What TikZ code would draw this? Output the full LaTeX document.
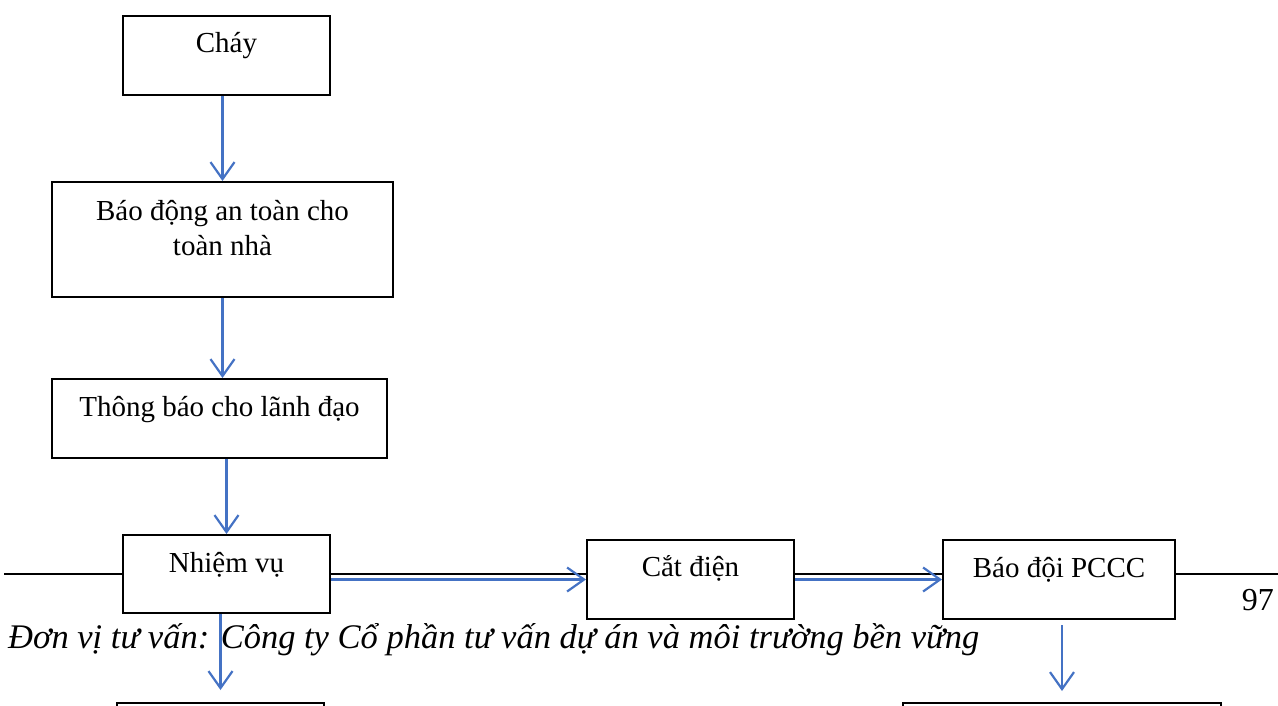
\documentclass[tikz,border=0pt]{standalone}
\usepackage{fontspec}
\setmainfont{Liberation Serif}
\usetikzlibrary{arrows.meta}
\definecolor{flowblue}{HTML}{4472C4}
\begin{document}
\begin{tikzpicture}[x=1pt,y=-1pt,
  box/.style={draw=black, line width=2pt, fill=white, inner sep=0pt, anchor=north west},
  lbl/.style={anchor=base, font=\fontsize{29}{35}\selectfont, align=center, inner sep=0pt},
  flow/.style={draw=flowblue, line width=2.2pt,
    -{Straight Barb[length=17pt,width=24pt,line width=2.2pt]}},
  pagerule/.style={draw=black, line width=1.8pt},
]
\useasboundingbox (0,0) rectangle (1278,705);
\clip (0,0) rectangle (1278,705);

% page footer rule (runs behind the boxes)
\draw[pagerule] (4,574) -- (1278,574);

% boxes
\node[box, minimum width=207pt, minimum height=79pt]  (chay)     at (122,15)  {};
\node[box, minimum width=341pt, minimum height=115pt] (baodong)  at (51,181)  {};
\node[box, minimum width=335pt, minimum height=79pt]  (thongbao) at (51,378)  {};
\node[box, minimum width=207pt, minimum height=78pt]  (nhiemvu)  at (122,534) {};
\node[box, minimum width=207pt, minimum height=79pt]  (catdien)  at (586,539) {};
\node[box, minimum width=232pt, minimum height=79pt]  (baodoi)   at (942,539) {};
\node[box, minimum width=207pt, minimum height=80pt]  (tiepL)    at (116,702) {};
\node[box, minimum width=318pt, minimum height=80pt]  (tiepR)    at (902,702) {};

% box texts, set near the top of each box (two-line text: base is the last line)
\node[lbl] (tchay)     at ([yshift=-37pt]chay.north)     {Cháy};
\node[lbl] (tbaodong)  at ([yshift=-74pt]baodong.north)  {Báo động an toàn cho\\toàn nhà};
\node[lbl] (tthongbao) at ([yshift=-38pt]thongbao.north) {Thông báo cho lãnh đạo};
\node[lbl] (tnhiemvu)  at ([yshift=-38pt]nhiemvu.north)  {Nhiệm vụ};
\node[lbl] (tcatdien)  at ([yshift=-37pt]catdien.north)  {Cắt điện};
\node[lbl] (tbaodoi)   at ([yshift=-38pt]baodoi.north)   {Báo đội PCCC};

% connectors
\draw[flow] (chay.south -| baodong.north) -- (baodong.north);
\draw[flow] (baodong.south) -- (baodong.south |- thongbao.north);
\draw[flow] (thongbao.south -| nhiemvu.north) -- (nhiemvu.north);
\draw[flow] (nhiemvu.east |- catdien.west) -- (catdien.west);
\draw[flow] (catdien.east) -- (baodoi.west);
\draw[flow] (nhiemvu.south -| tiepL.north) -- ([yshift=12pt]tiepL.north);
\draw[flow] ([yshift=-5pt]baodoi.south -| tiepR.north) -- ([yshift=11pt]tiepR.north);

% page footer
\node[anchor=base west, inner sep=0pt, font=\fontsize{34.5}{41}\selectfont\itshape] (footer) at (8,648)
  {Đơn vị tư vấn: Công ty Cổ phần tư vấn dự án và môi trường bền vững};
\node[anchor=base east, inner sep=0pt, font=\fontsize{32}{38}\selectfont] (pageno) at (1274,610) {97};
\end{tikzpicture}
\end{document}
